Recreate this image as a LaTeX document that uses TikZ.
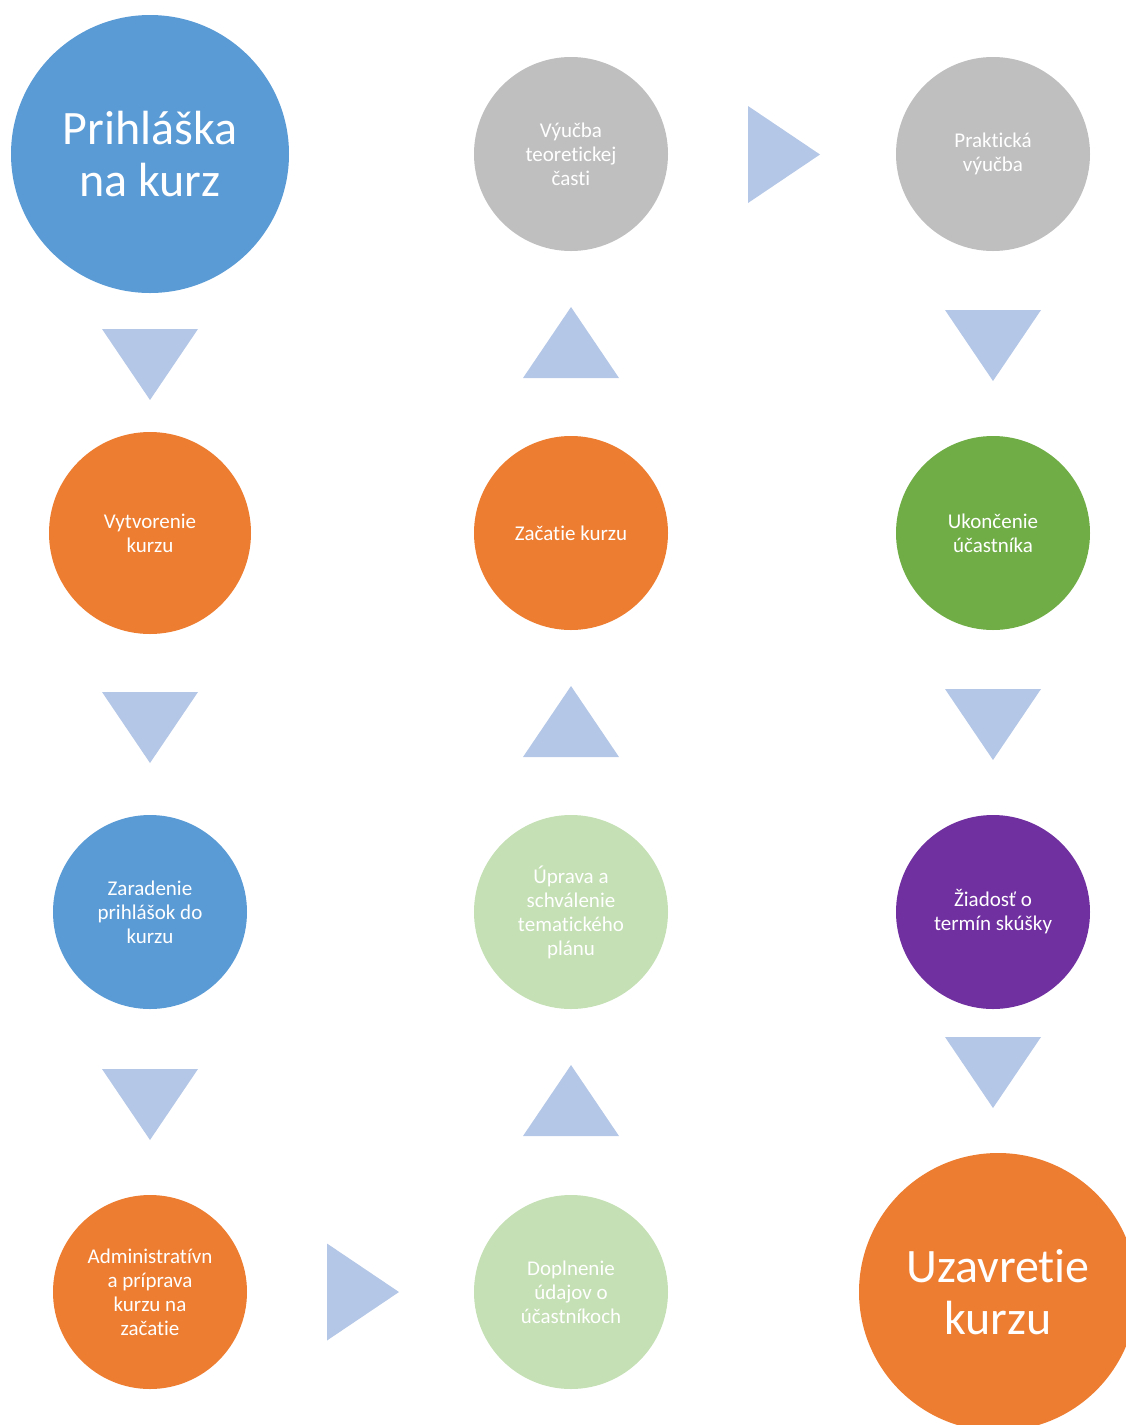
\documentclass[tikz,border=0pt]{standalone}
\usepackage{fontspec}
\setmainfont[Ligatures={NoCommon,NoRare,NoDiscretionary},RawFeature={-liga;-clig;-dlig}]{Carlito}
\definecolor{cblue}{HTML}{5B9BD5}
\definecolor{corange}{HTML}{ED7D31}
\definecolor{cgray}{HTML}{BFBFBF}
\definecolor{cgreen}{HTML}{70AD47}
\definecolor{clgreen}{HTML}{C5E0B4}
\definecolor{cpurple}{HTML}{7030A0}
\definecolor{ctri}{HTML}{B4C7E7}
\tikzset{
  circ/.style={circle, inner sep=0pt, text=white, align=center,
    font=\fontsize{21}{24}\selectfont},
  small/.style={circ, minimum size=194pt},
  big/.style={circ, minimum size=278pt, font=\fontsize{48}{52}\selectfont},
  tdown/.pic={\fill[ctri] (-48,-35.5) -- (48,-35.5) -- (0,35.5) -- cycle;},
  tup/.pic={\fill[ctri] (-48,35.5) -- (48,35.5) -- (0,-35.5) -- cycle;},
  tright/.pic={\fill[ctri] (-36,-48.5) -- (-36,48.5) -- (36,0) -- cycle;},
}
\begin{document}
\begin{tikzpicture}[x=1pt,y=-1pt]
\useasboundingbox (0,0) rectangle (1126,1425);
\clip (0,0) rectangle (1126,1425);
% column 1
\node[big, fill=cblue] (n1) at (150,154) {Prihláška\\na kurz};
\node[circ, minimum size=202pt, fill=corange] (n2) at (150,533) {Vytvorenie\\kurzu};
\node[small, fill=cblue] (n3) at (150,912) {Zaradenie\\prihlášok do\\kurzu};
\node[small, fill=corange] (n4) at (150,1292) {Administratívn\\a príprava\\kurzu na\\začatie};
% column 2
\node[small, fill=clgreen] (n5) at (571,1292) {Doplnenie\\údajov o\\účastníkoch};
\node[small, fill=clgreen] (n6) at (571,912) {Úprava a\\schválenie\\tematického\\plánu};
\node[small, fill=corange] (n7) at (571,533) {Začatie kurzu};
\node[small, fill=cgray] (n8) at (571,154) {Výučba\\teoretickej\\časti};
% column 3
\node[small, fill=cgray] (n9) at (993,154) {Praktická\\výučba};
\node[small, fill=cgreen] (n10) at (993,533) {Ukončenie\\účastníka};
\node[small, fill=cpurple] (n11) at (993,912) {Žiadosť o\\termín skúšky};
\node[big, fill=corange] (n12) at (998,1292) {Uzavretie\\kurzu};
% triangles
\pic at (150,364.5) {tdown};
\pic at (150,727.5) {tdown};
\pic at (150,1104.5) {tdown};
\pic at (363,1292) {tright};
\pic at (571,1100.5) {tup};
\pic at (571,721.5) {tup};
\pic at (571,342.5) {tup};
\pic at (784,154.5) {tright};
\pic at (993,345.5) {tdown};
\pic at (993,724.5) {tdown};
\pic at (993,1072.5) {tdown};
\end{tikzpicture}
\end{document}
